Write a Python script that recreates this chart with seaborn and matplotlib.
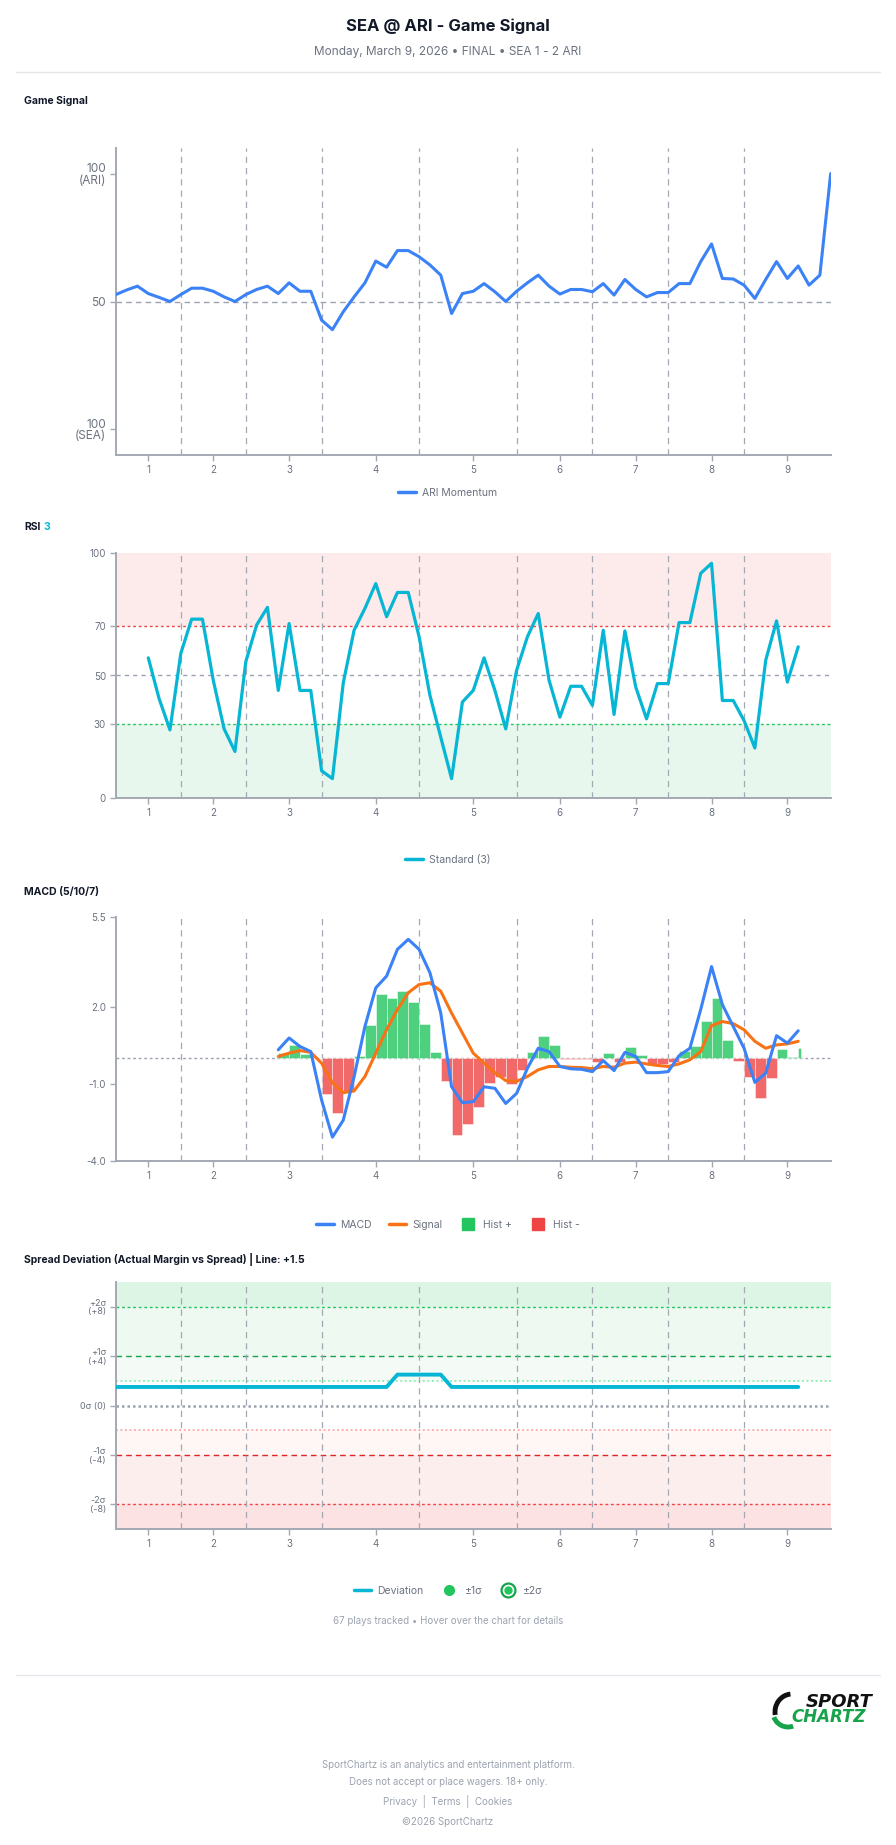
import numpy as np
import pandas as pd
import seaborn as sns
from matplotlib import pyplot as plt
from matplotlib.lines import Line2D
from matplotlib.patches import Arc

# ---- data (one value per play) ----
inning_labels = ['1', '2', '3', '4', '5', '6', '7', '8', '9']
inning_ticks = [3, 9, 16, 24, 33, 41, 48, 55, 62]
inning_breaks = [6, 12, 19, 28, 37, 44, 51, 58]

game_signal = [52.7, 54.5, 56.0, 53.1, 51.6, 50.0, 52.7, 55.2, 55.2, 54.0,
               51.8, 50.0, 52.7, 54.7, 56.0, 53.1, 57.3, 54.0, 54.0, 42.7,
               39.0, 46.0, 51.8, 57.3, 65.8, 63.4, 69.9, 69.9, 67.5, 64.3,
               60.3, 45.3, 53.1, 54.0, 57.0, 53.8, 50.0, 54.0, 57.3, 60.3,
               56.0, 52.9, 54.7, 54.7, 53.8, 57.0, 52.5, 58.6, 54.7, 51.8,
               53.5, 53.5, 57.0, 57.0, 65.6, 72.5, 59.0, 58.8, 56.4, 51.2,
               58.6, 65.6, 59.0, 63.9, 56.4, 60.3, 100.0]

rsi_start = 3
rsi_values = [57.2, 40.5, 27.8, 59.0, 73.0, 73.0, 48.0, 28.2, 19.0, 55.6,
              70.6, 77.8, 43.9, 71.2, 43.9, 43.9, 11.1, 7.9, 47.0, 68.5,
              77.4, 87.5, 74.0, 83.9, 83.9, 65.8, 41.9, 24.8, 7.9, 39.2,
              43.9, 57.2, 43.9, 28.2, 52.1, 65.8, 75.3, 48.0, 33.0, 45.6,
              45.6, 37.8, 68.5, 34.1, 68.2, 45.3, 32.3, 46.7, 46.7, 71.6,
              71.6, 91.7, 95.8, 39.8, 39.8, 31.6, 20.4, 56.2, 72.3, 47.3,
              61.7]

macd_start = 15
macd_values = [0.33, 0.79, 0.46, 0.26, -1.63, -3.07, -2.41, -0.72, 1.24, 2.74,
               3.20, 4.24, 4.63, 4.24, 3.33, 1.76, -1.11, -1.73, -1.69, -1.11,
               -1.17, -1.76, -1.37, -0.39, 0.39, 0.26, -0.32, -0.41, -0.43, -0.52,
               -0.09, -0.48, 0.23, 0.07, -0.56, -0.56, -0.52, 0.10, 0.39, 1.90,
               3.57, 2.09, 1.24, 0.39, -0.94, -0.58, 0.88, 0.59, 1.07]
signal_values = [0.07, 0.20, 0.30, 0.23, -0.19, -0.95, -1.34, -1.27, -0.71, 0.20,
                 1.11, 1.90, 2.55, 2.87, 2.94, 2.61, 1.76, 0.98, 0.20, -0.19,
                 -0.56, -0.87, -0.90, -0.71, -0.45, -0.32, -0.32, -0.35, -0.36, -0.41,
                 -0.32, -0.35, -0.19, -0.15, -0.22, -0.28, -0.32, -0.22, -0.06, 0.26,
                 1.27, 1.43, 1.35, 1.11, 0.66, 0.39, 0.52, 0.56, 0.66]
hist_values = [0.22, 0.50, 0.16, 0.02, -1.41, -2.12, -1.30, 0.07, 1.29, 2.52,
               2.36, 2.60, 2.19, 1.32, 0.24, -0.88, -2.97, -2.57, -1.89, -0.98,
               -0.72, -1.01, -0.46, 0.26, 0.85, 0.52, -0.03, -0.03, -0.03, -0.13,
               0.21, -0.13, 0.42, 0.13, -0.26, -0.22, -0.13, 0.29, 0.46, 1.44,
               2.35, 0.72, -0.09, -0.74, -1.56, -0.78, 0.36, 0.04, 0.39]

deviation = [1.5, 1.5, 1.5, 1.5, 1.5, 1.5, 1.5, 1.5, 1.5, 1.5,
             1.5, 1.5, 1.5, 1.5, 1.5, 1.5, 1.5, 1.5, 1.5, 1.5,
             1.5, 1.5, 1.5, 1.5, 1.5, 1.5, 2.5, 2.5, 2.5, 2.5,
             2.5, 1.5, 1.5, 1.5, 1.5, 1.5, 1.5, 1.5, 1.5, 1.5,
             1.5, 1.5, 1.5, 1.5, 1.5, 1.5, 1.5, 1.5, 1.5, 1.5,
             1.5, 1.5, 1.5, 1.5, 1.5, 1.5, 1.5, 1.5, 1.5, 1.5,
             1.5, 1.5, 1.5, 1.5]

plays = np.arange(len(game_signal))
rsi_x = np.arange(rsi_start, rsi_start + len(rsi_values))
macd_x = np.arange(macd_start, macd_start + len(macd_values))
dev_x = np.arange(len(deviation))

# colours
BLUE = '#3b82f6'
CYAN = '#06b6d4'
ORANGE = '#f97316'
GREEN = '#22c55e'
RED = '#ef4444'
GRID = '#a3a8b2'
TXT = '#6b7280'

sns.set_theme(style='white')
plt.rcParams['font.family'] = ['Inter', 'DejaVu Sans']
plt.rcParams['lines.solid_joinstyle'] = 'round'
plt.rcParams['lines.solid_capstyle'] = 'round'

W, H = 896, 1845
fig = plt.figure(figsize=(W / 100, H / 100), dpi=100)


def px_axes(left, top, right, bottom):
    return fig.add_axes([left / W, 1 - bottom / H, (right - left) / W, (bottom - top) / H])


def style_axes(ax):
    for s in ['top', 'right']:
        ax.spines[s].set_visible(False)
    for s in ['left', 'bottom']:
        ax.spines[s].set_color(GRID)
        ax.spines[s].set_linewidth(1.4)
    ax.set_xlim(0, 66)
    ax.set_xticks(inning_ticks)
    ax.set_xticklabels(inning_labels)
    ax.tick_params(axis='both', colors=GRID, labelcolor=TXT, labelsize=7,
                   length=4.5, width=1, pad=2.5, left=True, bottom=True)
    for b in inning_breaks:
        ax.axvline(b, color=GRID, lw=0.9, ls=(0, (5, 4)), zorder=1)
    ax.set_xlabel('')
    ax.set_ylabel('')
    ax.grid(False)


def legend_at(y_px, handles, labels, **kw):
    fig.legend(handles=handles, labels=labels, loc='center',
               bbox_to_anchor=(0.5, 1 - y_px / H), frameon=False, fontsize=7.5,
               labelcolor=TXT, handlelength=1.7, handletextpad=0.6,
               columnspacing=1.6, ncol=len(labels), **kw)


# ---- header ----
fig.text(0.5, 1 - 26 / H, 'SEA @ ARI - Game Signal', ha='center', va='center',
         fontsize=12, fontweight='bold', color='#111827')
fig.text(0.5, 1 - 52 / H, 'Monday, March 9, 2026 \u2022 FINAL \u2022 SEA 1 - 2 ARI',
         ha='center', va='center', fontsize=8.5, color=TXT)
fig.add_artist(Line2D([16 / W, 880 / W], [1 - 72 / H, 1 - 72 / H], color='#e5e7eb', lw=1))

# ---- Game signal ----
fig.text(24 / W, 1 - 101 / H, 'Game Signal', va='center', fontsize=7.5,
         fontweight='bold', color='#111827')
ax1 = px_axes(115.8, 148, 830.7, 455)
ax1.axhline(50, color='#9ca3af', lw=1, ls=(0, (4, 3)), zorder=1)
sns.lineplot(x=plays, y=game_signal, ax=ax1, color=BLUE, lw=2.2, legend=False, zorder=3)
style_axes(ax1)
ax1.set_ylim(-10, 110)
ax1.set_yticks([0, 50, 100])
ax1.set_yticklabels(['100\n(SEA)', '50', '100\n(ARI)'], fontsize=8.5, linespacing=0.95)
legend_at(493, [Line2D([], [], color=BLUE, lw=2.5)], ['ARI Momentum'])

# ---- RSI ----
fig.text(24 / W, 1 - 527 / H, 'RSI', va='center', fontsize=7.5, fontweight='bold', color='#111827')
fig.text(43 / W, 1 - 527 / H, '3', va='center', fontsize=7.5, fontweight='bold', color=CYAN)
ax2 = px_axes(115.8, 553, 830.7, 798)
ax2.axhspan(70, 100, color='#fdeaea', lw=0, zorder=0)
ax2.axhspan(0, 30, color='#e8f7ee', lw=0, zorder=0)
ax2.axhline(70, color=RED, lw=1, ls=(0, (2, 2)), zorder=1)
ax2.axhline(50, color='#9ca3af', lw=1, ls=(0, (3, 3)), zorder=1)
ax2.axhline(30, color=GREEN, lw=1, ls=(0, (2, 2)), zorder=1)
sns.lineplot(x=rsi_x, y=rsi_values, ax=ax2, color=CYAN, lw=2.3, legend=False, zorder=3)
style_axes(ax2)
ax2.set_ylim(0, 100)
ax2.set_yticks([0, 30, 50, 70, 100])
legend_at(860, [Line2D([], [], color=CYAN, lw=2.5)], ['Standard (3)'])

# ---- MACD ----
fig.text(24 / W, 1 - 892 / H, 'MACD (5/10/7)', va='center', fontsize=7.5,
         fontweight='bold', color='#111827')
ax3 = px_axes(115.8, 917, 830.7, 1161)
ax3.axhline(0, color='#9ca3af', lw=1, ls=(0, (2, 2)), zorder=1)
bar_colors = [GREEN if v >= 0 else RED for v in hist_values]
bar_widths = [1.0] * (len(hist_values) - 1) + [0.25]
ax3.bar(macd_x, hist_values, width=bar_widths, align='edge', color=bar_colors,
        alpha=0.8, edgecolor='white', lw=0.4, zorder=2)
sns.lineplot(x=macd_x, y=signal_values, ax=ax3, color=ORANGE, lw=2.2, legend=False, zorder=3)
sns.lineplot(x=macd_x, y=macd_values, ax=ax3, color=BLUE, lw=2.2, legend=False, zorder=4)
style_axes(ax3)
ax3.set_ylim(-4, 5.5)
ax3.set_yticks([-4, -1, 2, 5.5])
ax3.set_yticklabels(['-4.0', '-1.0', '2.0', '5.5'])
legend_at(1225,
          [Line2D([], [], color=BLUE, lw=2.5), Line2D([], [], color=ORANGE, lw=2.5),
           Line2D([], [], ls='', marker='s', ms=9, color=GREEN),
           Line2D([], [], ls='', marker='s', ms=9, color=RED)],
          ['MACD', 'Signal', 'Hist +', 'Hist -'])

# ---- Spread deviation ----
fig.text(24 / W, 1 - 1259 / H, 'Spread Deviation (Actual Margin vs Spread) | Line: +1.5',
         va='center', fontsize=7.5, fontweight='bold', color='#111827')
ax4 = px_axes(115.8, 1282, 830.7, 1529)
ax4.axhspan(8, 10, color='#dcf5e5', lw=0, zorder=0)
ax4.axhspan(4, 8, color='#eef9f2', lw=0, zorder=0)
ax4.axhspan(2, 4, color='#f4fbf7', lw=0, zorder=0)
ax4.axhspan(-4, -2, color='#fff6f6', lw=0, zorder=0)
ax4.axhspan(-8, -4, color='#fdeeee', lw=0, zorder=0)
ax4.axhspan(-10, -8, color='#fde2e3', lw=0, zorder=0)
ax4.axhline(8, color=GREEN, lw=1, ls=(0, (2, 2)), zorder=1)
ax4.axhline(4, color='#16a34a', lw=1, ls=(0, (4, 3)), zorder=1)
ax4.axhline(2, color='#86efac', lw=1.3, ls=(0, (1, 1.5)), zorder=1)
ax4.axhline(0, color='#9ca3af', lw=1.8, ls=(0, (1, 1.2)), zorder=1)
ax4.axhline(-2, color='#fca5a5', lw=1.3, ls=(0, (1, 1.5)), zorder=1)
ax4.axhline(-4, color='#dc2626', lw=1, ls=(0, (4, 3)), zorder=1)
ax4.axhline(-8, color=RED, lw=1, ls=(0, (2, 2)), zorder=1)
sns.lineplot(x=dev_x, y=deviation, ax=ax4, color=CYAN, lw=2.8, legend=False, zorder=3)
style_axes(ax4)
ax4.set_ylim(-10, 10)
ax4.set_yticks([-8, -4, 0, 4, 8])
ax4.set_yticklabels(['-2\u03c3\n(-8)', '-1\u03c3\n(-4)', '0\u03c3 (0)', '+1\u03c3\n(+4)', '+2\u03c3\n(+8)'],
                    fontsize=6.5, linespacing=0.95)
ring = (Line2D([], [], ls='', marker='o', ms=10, mfc='white', mec='#16a34a', mew=1.6),
        Line2D([], [], ls='', marker='o', ms=5, color=GREEN))
legend_at(1591,
          [Line2D([], [], color=CYAN, lw=2.5),
           Line2D([], [], ls='', marker='o', ms=7, color=GREEN), ring],
          ['Deviation', '\u00b11\u03c3', '\u00b12\u03c3'])
fig.text(0.5, 1 - 1621 / H, '67 plays tracked \u2022 Hover over the chart for details',
         ha='center', va='center', fontsize=7, color='#9ca3af')

# ---- footer ----
fig.add_artist(Line2D([16 / W, 880 / W], [1 - 1675 / H, 1 - 1675 / H], color='#e5e7eb', lw=1))
# little swoosh in front of the logo text
fig.add_artist(Arc((7.92, (H - 1712) / 100), 0.34, 0.36, theta1=95, theta2=190,
                   transform=fig.dpi_scale_trans, color='#111111', lw=3.5))
fig.add_artist(Arc((7.88, (H - 1712) / 100), 0.30, 0.30, theta1=200, theta2=290,
                   transform=fig.dpi_scale_trans, color='#16a34a', lw=3.5))
fig.text(873 / W, 1 - 1702 / H, 'SPORT', ha='right', va='center', fontsize=13,
         fontweight='heavy', style='italic', color='#111111', family='DejaVu Sans')
fig.text(866 / W, 1 - 1717 / H, 'CHARTZ', ha='right', va='center', fontsize=12,
         fontweight='bold', style='italic', color='#16a34a', family='DejaVu Sans')
footer = ['SportChartz is an analytics and entertainment platform.',
          'Does not accept or place wagers. 18+ only.',
          'Privacy  |  Terms  |  Cookies',
          '\u00a92026 SportChartz']
for txt, y in zip(footer, [1765, 1782, 1802, 1822]):
    fig.text(0.5, 1 - y / H, txt, ha='center', va='center', fontsize=7, color='#9ca3af')

fig.savefig('out.png', dpi=100, facecolor='white')
